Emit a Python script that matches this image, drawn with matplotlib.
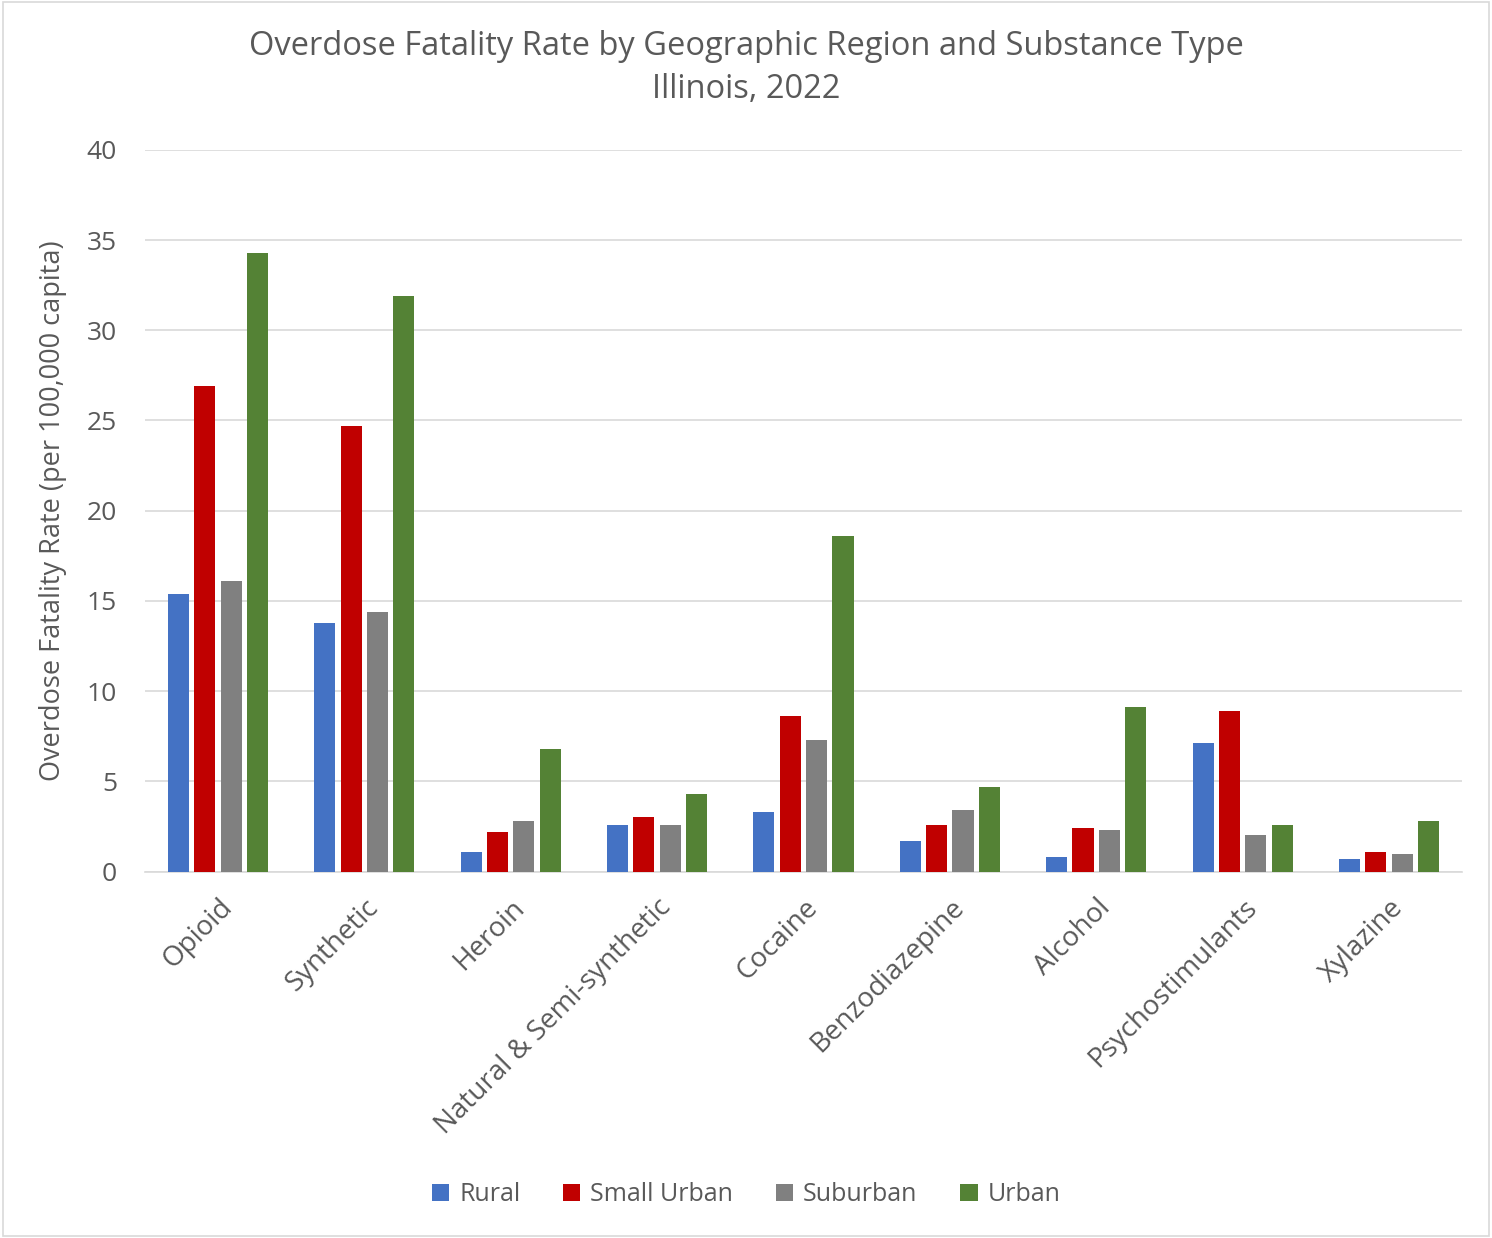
import numpy as np
import matplotlib.pyplot as plt
from matplotlib.patches import Rectangle

# data
substances = ["Opioid", "Synthetic", "Heroin", "Natural & Semi-synthetic", "Cocaine",
              "Benzodiazepine", "Alcohol", "Psychostimulants", "Xylazine"]
regions = ["Rural", "Small Urban", "Suburban", "Urban"]
rural = [15.4, 13.8, 1.1, 2.6, 3.3, 1.7, 0.8, 7.1, 0.7]
small_urban = [26.9, 24.7, 2.2, 3.0, 8.6, 2.6, 2.4, 8.9, 1.1]
suburban = [16.1, 14.4, 2.8, 2.6, 7.3, 3.4, 2.3, 2.0, 1.0]
urban = [34.3, 31.9, 6.8, 4.3, 18.6, 4.7, 9.1, 2.6, 2.8]
colors = ["#4472C4", "#C00000", "#808080", "#548235"]

plt.rcParams['font.family'] = ['Open Sans', 'DejaVu Sans']
txt = "#595959"

fig = plt.figure(figsize=(14.92, 12.38), dpi=100)
ax = fig.add_axes([0.097, 0.296, 0.883, 0.583])

x = np.arange(len(substances))
w = 0.144
pitch = 0.18
series = [rural, small_urban, suburban, urban]
for i, vals in enumerate(series):
    ax.bar(x + (i - 1.5) * pitch, vals, w, color=colors[i], label=regions[i], zorder=3)

ax.set_xlim(-0.5, len(substances) - 0.5)
ax.set_ylim(0, 40)
ax.set_yticks(range(0, 41, 5))
ax.grid(axis='y', color='#D9D9D9', linewidth=1.2, zorder=0)
for s in ['top', 'right', 'left']:
    ax.spines[s].set_visible(False)
ax.spines['bottom'].set_color('#D9D9D9')
ax.spines['bottom'].set_linewidth(1.2)
ax.tick_params(axis='both', length=0, labelsize=19, colors=txt)
ax.tick_params(axis='x', pad=16, labelsize=20)
ax.tick_params(axis='y', pad=20)
ax.set_xticks(x)
ax.set_xticklabels(substances, rotation=45, ha='right', rotation_mode='anchor')
ax.set_ylabel("Overdose Fatality Rate (per 100,000 capita)", fontsize=19.5, color=txt, labelpad=14)

fig.text(0.5, 0.945, "Overdose Fatality Rate by Geographic Region and Substance Type\nIllinois, 2022",
         ha='center', va='center', fontsize=23.5, color=txt, linespacing=1.4)

fig.legend(loc='center', bbox_to_anchor=(0.5, 0.035), ncol=4, frameon=False, fontsize=18,
           handlelength=0.7, handleheight=0.7, handletextpad=0.4, columnspacing=1.7,
           labelcolor=txt)

fig.patches.append(Rectangle((0.002, 0.002), 0.996, 0.996, transform=fig.transFigure,
                             fill=False, edgecolor='#D9D9D9', linewidth=1.2))

fig.savefig("out.png", dpi=100)
